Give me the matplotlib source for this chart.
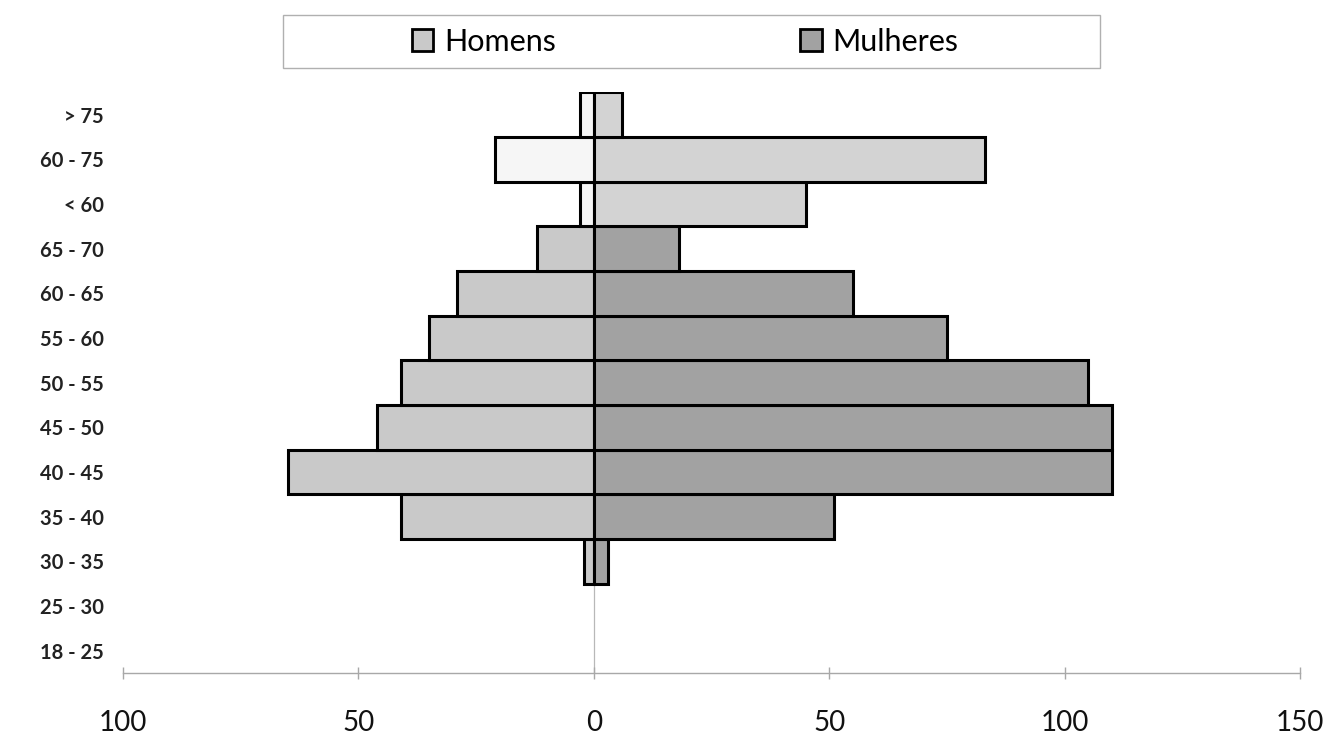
import matplotlib
matplotlib.use('Agg')
import matplotlib.pyplot as plt
from matplotlib.patches import Patch, Rectangle
from matplotlib.ticker import FuncFormatter

plt.rcParams['font.family'] = ['Lato', 'DejaVu Sans']

# age groups, bottom to top
age_groups = ['18 - 25', '25 - 30', '30 - 35', '35 - 40', '40 - 45', '45 - 50', '50 - 55',
              '55 - 60', '60 - 65', '65 - 70', '< 60', '60 - 75', '> 75']
homens = [0, 0, 2, 41, 65, 46, 41, 35, 29, 12, 3, 21, 3]
mulheres = [0, 0, 3, 51, 110, 110, 105, 75, 55, 18, 45, 83, 6]
x_ticks = [-100, -50, 0, 50, 100, 150]

# fill colours: the top three rows are drawn in a lighter shade
light_rows = {'< 60', '60 - 75', '> 75'}
col_h = ['#f6f6f6' if g in light_rows else '#c9c9c9' for g in age_groups]
col_m = ['#d3d3d3' if g in light_rows else '#a2a2a2' for g in age_groups]
# no outline for empty bars
edge_h = ['black' if v else 'none' for v in homens]
edge_m = ['black' if v else 'none' for v in mulheres]

fig = plt.figure(figsize=(13.28, 7.36), dpi=100)
ax = fig.add_axes([0.0926, 0.0856, 0.8864, 0.789])

ypos = list(range(len(age_groups)))
ax.axvline(0, color='#b8b8b8', linewidth=0.9, zorder=1)
ax.barh(ypos, [-v for v in homens], height=1.0, color=col_h, edgecolor=edge_h, linewidth=2.2, zorder=3)
ax.barh(ypos, mulheres, height=1.0, color=col_m, edgecolor=edge_m, linewidth=2.2, zorder=3)

ax.set_xlim(-100, 150)
ax.set_ylim(-0.5, len(age_groups) - 0.5)
ax.set_xticks(x_ticks)
ax.xaxis.set_major_formatter(FuncFormatter(lambda v, p: '%d' % abs(v)))
ax.set_yticks(ypos)
ax.set_yticklabels(age_groups, fontweight='bold')

for s in ['top', 'right', 'left']:
    ax.spines[s].set_visible(False)
ax.spines['bottom'].set_color('#a8a8a8')
ax.spines['bottom'].set_linewidth(1.0)
ax.tick_params(axis='x', direction='inout', length=9, width=1.0, color='#a8a8a8',
               labelsize=20, pad=22, labelcolor='#111111')
ax.tick_params(axis='y', length=0, pad=14, labelsize=14.5, labelcolor='#222222')

# legend box
fig.patches.append(Rectangle((0.213, 0.9076), 0.615, 0.0724, transform=fig.transFigure,
                             facecolor='white', edgecolor='#b0b0b0', linewidth=1.0))
handles = [Patch(facecolor='#c9c9c9', edgecolor='black', linewidth=2.0, label='Homens'),
           Patch(facecolor='#a2a2a2', edgecolor='black', linewidth=2.0, label='Mulheres')]
fig.legend(handles=handles, loc='center', bbox_to_anchor=(0.516, 0.9435), ncol=2,
           frameon=False, fontsize=22, handlelength=0.7, handleheight=0.7,
           handletextpad=0.35, columnspacing=8.0)

fig.savefig('out.png', dpi=100)
